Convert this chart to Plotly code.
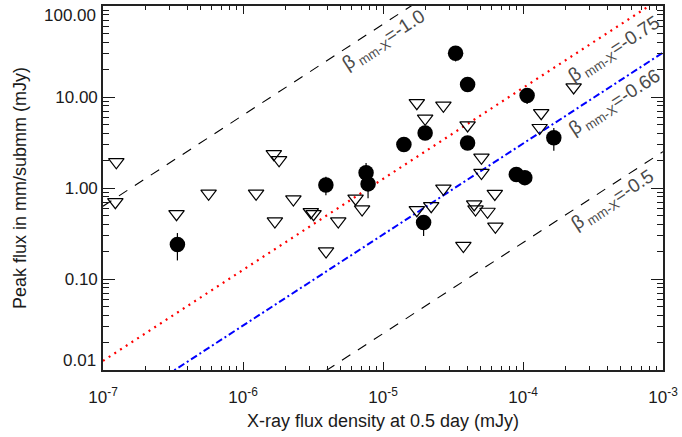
import plotly.graph_objects as go

# Afterglows with mm/submm detections: X-ray flux density at 0.5 day and peak flux (mJy)
det_xray = [3.40e-7, 3.91e-6, 7.57e-6, 7.82e-6, 1.41e-5, 2.00e-5, 1.95e-5,
            3.30e-5, 4.02e-5, 4.02e-5, 1.07e-4, 8.96e-5, 1.03e-4, 1.66e-4]
det_peak = [0.24, 1.08, 1.47, 1.11, 3.01, 4.03, 0.417,
            30.3, 13.7, 3.13, 10.4, 1.41, 1.30, 3.56]
det_err_up = [0.08, 0.25, 0.41, 0.34, 0.30, 0.40, 0.06,
              5.7, 1.3, 0.30, 2.0, 0.14, 0.13, 1.0]
det_err_dn = [0.08, 0.25, 0.41, 0.34, 0.30, 0.40, 0.12,
              5.7, 1.3, 0.30, 2.0, 0.14, 0.13, 1.0]

# Afterglows with mm/submm upper limits only
lim_xray = [1.245e-7, 1.225e-7, 3.35e-7, 5.68e-7, 1.24e-6, 1.66e-6, 1.81e-6,
            2.29e-6, 1.69e-6, 3.05e-6, 3.19e-6, 4.79e-6, 3.92e-6, 6.37e-6,
            7.09e-6, 1.744e-5, 2.70e-5, 2.00e-5, 4.02e-5, 1.349e-4, 1.315e-4,
            2.30e-4, 5.05e-5, 5.05e-5, 2.70e-5, 6.29e-5, 1.744e-5, 2.21e-5,
            4.48e-5, 4.58e-5, 5.58e-5, 6.35e-5, 3.75e-5]
lim_peak = [1.93, 0.703, 0.519, 0.870, 0.870, 2.36, 2.03,
            0.752, 0.430, 0.546, 0.519, 0.430, 0.2016, 0.767,
            0.584, 8.60, 8.05, 5.80, 4.90, 6.68, 4.58,
            12.8, 2.16, 1.47, 0.987, 0.866, 0.574, 0.635,
            0.663, 0.584, 0.550, 0.377, 0.2316]

# Constant spectral index lines between the X-ray and mm bands
betas = [-1.0, -0.75, -0.66, -0.5]
beta_labels = ["-1.0", "-0.75", "-0.66", "-0.5"]
nu_ratio_log = 6.8          # log10(nu_X / nu_mm)
x_range = [1e-7, 1e-3]
y_range = [0.01, 100.0]

x_ticks = [1e-7, 1e-6, 1e-5, 1e-4, 1e-3]
x_ticktext = ["10<sup>-7</sup>", "10<sup>-6</sup>", "10<sup>-5</sup>",
              "10<sup>-4</sup>", "10<sup>-3</sup>"]
y_ticks = [0.1, 1.0, 10.0]
y_ticktext = ["0.10", "1.00", "10.00"]
y_end_labels = [(100.0, "100.00"), (0.01, "0.01")]

FONT = "Liberation Sans, Arial, Helvetica, sans-serif"
INK = "#1a1a1a"

line_styles = [
    dict(color="black", width=1.1, dash="10px,9px"),
    dict(color="#ff0000", width=2.2, dash="2px,4.8px"),
    dict(color="#0000ff", width=2.0, dash="7px,3px,2px,3px"),
    dict(color="black", width=1.1, dash="10px,9px"),
]
# label centres (log10 x, log10 y) for each beta line
label_pos = [(-4.995, 1.62), (-3.346, 1.52), (-3.339, 0.93), (-3.36, -0.14)]

fig = go.Figure()

for beta, style in zip(betas, line_styles):
    off = 10 ** (-beta * nu_ratio_log)
    xs = [x_range[0], x_range[1]]
    ys = [x * off for x in xs]
    fig.add_trace(go.Scatter(x=xs, y=ys, mode="lines", line=style,
                             hoverinfo="skip", showlegend=False))

fig.add_trace(go.Scatter(
    x=lim_xray, y=lim_peak, mode="markers", showlegend=False,
    marker=dict(symbol="triangle-down-open", size=13.5,
                color="black", line=dict(color="black", width=1.2)),
))

fig.add_trace(go.Scatter(
    x=det_xray, y=det_peak, mode="markers", showlegend=False,
    marker=dict(symbol="circle", size=15.5, color="black"),
    error_y=dict(type="data", symmetric=False, array=det_err_up,
                 arrayminus=det_err_dn, color="black", thickness=1.2, width=0),
))


def minor_vals(lo, hi):
    vals = []
    for k in range(lo, hi):
        for m in range(2, 10):
            vals.append(m * 10 ** k)
    return vals


annotations = []
for (lx, ly), lab in zip(label_pos, beta_labels):
    annotations.append(dict(
        x=lx, y=ly, xref="x", yref="y", showarrow=False,
        text="\u03b2<sub> mm-X</sub>=" + lab, textangle=-33,
        font=dict(family=FONT, size=19, color="#4a4a4a"),
        xanchor="center", yanchor="middle"))

for val, txt in y_end_labels:
    shift = -9 if val > 1 else 10
    annotations.append(dict(
        x=0, xref="paper", y=[-2, 2][val > 1], yref="y", showarrow=False,
        text=txt, xanchor="right", yanchor="middle", xshift=-5, yshift=shift,
        font=dict(family=FONT, size=17, color=INK)))

fig.update_layout(
    width=682, height=437,
    margin=dict(l=103, r=16, t=4, b=67),
    paper_bgcolor="white", plot_bgcolor="white",
    font=dict(family=FONT, color=INK),
    annotations=annotations,
)

fig.update_xaxes(
    type="log", range=[-7, -3],
    tickvals=x_ticks, ticktext=x_ticktext,
    tickfont=dict(family=FONT, size=17, color=INK),
    ticklabelstandoff=11,
    ticks="inside", ticklen=8, tickwidth=1.2, tickcolor=INK,
    minor=dict(tickvals=minor_vals(-7, -3), ticks="inside", ticklen=4,
               tickwidth=1.1, tickcolor=INK),
    showline=True, linecolor="#222222", linewidth=1.6, mirror="ticks",
    showgrid=False, zeroline=False,
    title=dict(text="X-ray flux density at 0.5 day (mJy)",
               font=dict(family=FONT, size=18, color=INK), standoff=8),
)

fig.update_yaxes(
    type="log", range=[-2, 2],
    tickvals=y_ticks, ticktext=y_ticktext,
    tickfont=dict(family=FONT, size=17, color=INK),
    ticks="inside", ticklen=12, tickwidth=1.2, tickcolor=INK,
    minor=dict(tickvals=minor_vals(-2, 2), ticks="inside", ticklen=6,
               tickwidth=1.1, tickcolor=INK),
    showline=True, linecolor="#222222", linewidth=1.6, mirror="ticks",
    showgrid=False, zeroline=False,
    title=dict(text="Peak flux in mm/submm (mJy)",
               font=dict(family=FONT, size=18, color=INK), standoff=24),
)

fig.write_html("out.html")
